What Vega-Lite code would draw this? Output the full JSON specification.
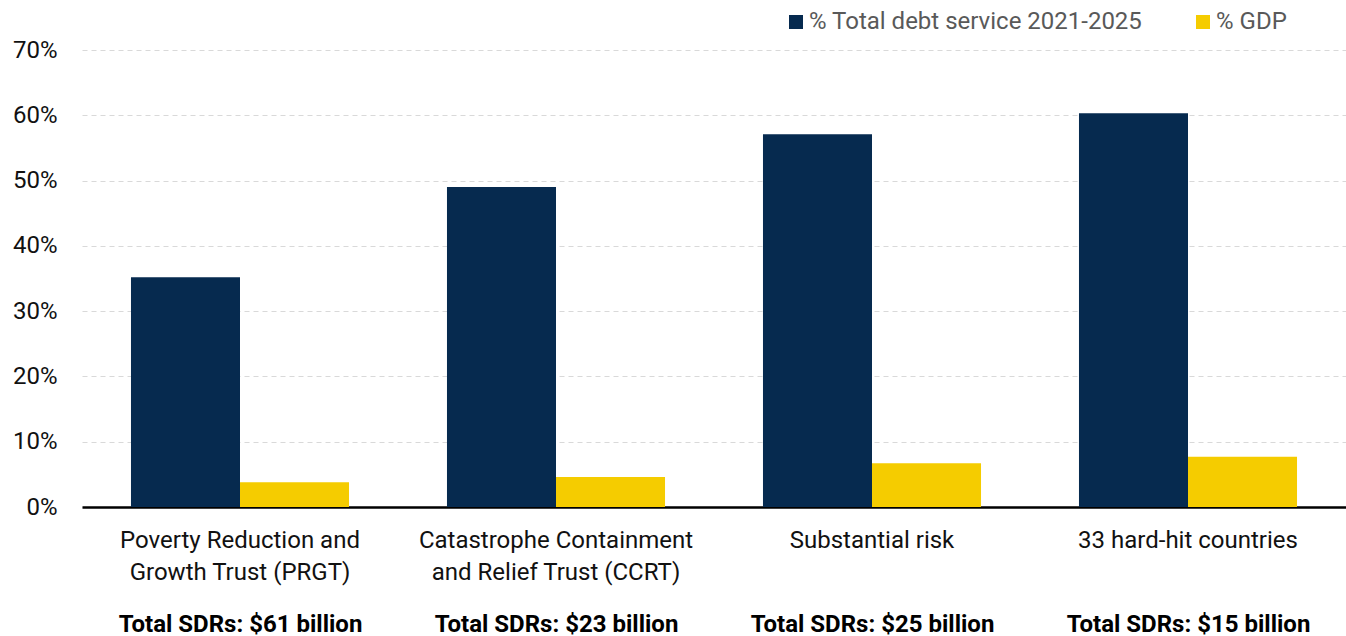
{
  "$schema": "https://vega.github.io/schema/vega-lite/v6.json",
  "width": 1264,
  "height": 457,
  "autosize": {"type": "none"},
  "padding": {"left": 82, "top": 50, "right": 0, "bottom": 129},
  "config": {"view": {"stroke": null}, "font": "Roboto"},
  "data": {
    "values": [
      {"group": "Poverty Reduction and Growth Trust (PRGT)", "sdr": "Total SDRs: $61 billion", "series": "% Total debt service 2021-2025", "value": 35.2},
      {"group": "Poverty Reduction and Growth Trust (PRGT)", "sdr": "Total SDRs: $61 billion", "series": "% GDP", "value": 3.8},
      {"group": "Catastrophe Containment and Relief Trust (CCRT)", "sdr": "Total SDRs: $23 billion", "series": "% Total debt service 2021-2025", "value": 49.0},
      {"group": "Catastrophe Containment and Relief Trust (CCRT)", "sdr": "Total SDRs: $23 billion", "series": "% GDP", "value": 4.6},
      {"group": "Substantial risk", "sdr": "Total SDRs: $25 billion", "series": "% Total debt service 2021-2025", "value": 57.1},
      {"group": "Substantial risk", "sdr": "Total SDRs: $25 billion", "series": "% GDP", "value": 6.7},
      {"group": "33 hard-hit countries", "sdr": "Total SDRs: $15 billion", "series": "% Total debt service 2021-2025", "value": 60.3},
      {"group": "33 hard-hit countries", "sdr": "Total SDRs: $15 billion", "series": "% GDP", "value": 7.7}
    ]
  },
  "layer": [
    {
      "mark": {"type": "bar"},
      "encoding": {
        "x": {
          "field": "group",
          "type": "nominal",
          "sort": null,
          "scale": {"paddingInner": 0.31, "paddingOuter": 0.155},
          "axis": {
            "title": null,
            "orient": "bottom",
            "labelAngle": 0,
            "labelFontSize": 24,
            "labelColor": "#111111",
            "labelLineHeight": 32,
            "labelPadding": 21,
            "ticks": false,
            "tickSize": 0,
            "domainColor": "#000000",
            "domainWidth": 2.5,
            "labelLimit": 0,
            "labelExpr": "datum.label == 'Poverty Reduction and Growth Trust (PRGT)' ? ['Poverty Reduction and', 'Growth Trust (PRGT)'] : datum.label == 'Catastrophe Containment and Relief Trust (CCRT)' ? ['Catastrophe Containment', 'and Relief Trust (CCRT)'] : datum.label"
          }
        },
        "xOffset": {
          "field": "series",
          "type": "nominal",
          "sort": ["% Total debt service 2021-2025", "% GDP"],
          "scale": {"paddingInner": 0, "paddingOuter": 0}
        },
        "y": {
          "field": "value",
          "type": "quantitative",
          "scale": {"domain": [0, 70]},
          "axis": {
            "title": null,
            "values": [0, 10, 20, 30, 40, 50, 60, 70],
            "labelExpr": "datum.value + '%'",
            "labelFontSize": 24,
            "labelColor": "#111111",
            "labelPadding": 25,
            "ticks": false,
            "domain": false,
            "gridColor": "#d9d9d9",
            "gridDash": [5, 4],
            "gridWidth": 1
          }
        },
        "color": {
          "field": "series",
          "type": "nominal",
          "sort": ["% Total debt service 2021-2025", "% GDP"],
          "scale": {"domain": ["% Total debt service 2021-2025", "% GDP"], "range": ["#062a4f", "#f5cc00"]},
          "legend": {
            "title": null,
            "orient": "none",
            "direction": "horizontal",
            "legendX": 702,
            "legendY": -40,
            "padding": 0,
            "symbolType": "square",
            "symbolSize": 196,
            "symbolStrokeWidth": 0,
            "labelFontSize": 24,
            "labelColor": "#595959",
            "labelOffset": 1,
            "columnPadding": 48,
            "labelLimit": 0
          }
        }
      }
    },
    {
      "mark": {"type": "text", "text": ""},
      "encoding": {
        "x": {
          "field": "sdr",
          "type": "nominal",
          "sort": null,
          "scale": {"paddingInner": 0.31, "paddingOuter": 0.155},
          "axis": {
            "title": null,
            "orient": "bottom",
            "labelAngle": 0,
            "labelFontSize": 24,
            "labelFontWeight": "bold",
            "labelColor": "#000000",
            "labelPadding": 105,
            "ticks": false,
            "tickSize": 0,
            "domain": false,
            "labelLimit": 0
          }
        }
      }
    }
  ],
  "resolve": {"scale": {"x": "independent"}, "axis": {"x": "independent"}}
}
